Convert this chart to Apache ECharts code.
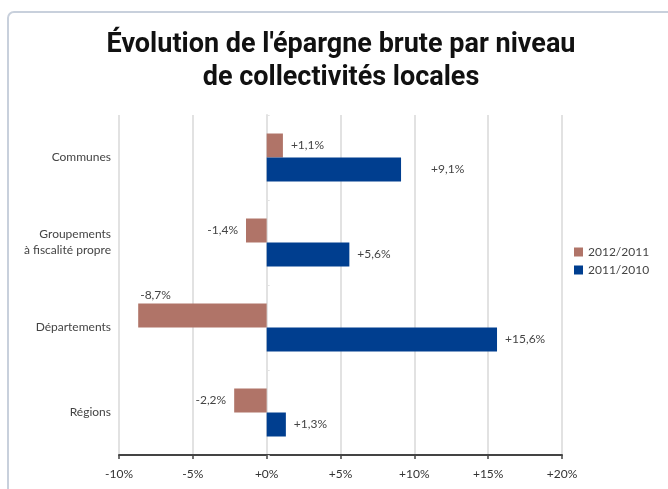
<!DOCTYPE html>
<html>
<head>
<meta charset="utf-8">
<script src="https://cdn.jsdelivr.net/npm/echarts@6/dist/echarts.min.js"></script>
<style>
  html, body { margin: 0; padding: 0; background: #fff; }
  #card {
    position: absolute; left: 7px; top: 11px; width: 720px; height: 540px;
    border: 2px solid #c8d0dc; border-radius: 7px; box-sizing: border-box;
  }
  #chart { position: absolute; left: 0; top: 0; width: 668px; height: 489px; }
</style>
</head>
<body>
<div id="card"></div>
<div id="chart"></div>
<script>
var myChart = echarts.init(document.getElementById('chart'));

// categories, top to bottom
var categories = ['Communes', 'Groupements\nà fiscalité propre', 'Départements', 'Régions'];
var seriesNames = ['2012/2011', '2011/2010'];
// evolution in %
var values2012 = [1.1, -1.4, -8.7, -2.2];
var values2011 = [9.1, 5.6, 15.6, 1.3];
var colors = ['#b07468', '#003e8f'];

function pct(v) {
    return (v >= 0 ? '+' : '') + String(v).replace('.', ',') + '%';
}

function barLabel(v) {
    return (v > 0 ? '+' : '') + v.toFixed(1).replace('.', ',') + '%';
}

// per item label placement (left for negatives)
function buildData(vals, special) {
    return vals.map(function (v, i) {
        var item = { value: v, label: { position: v < 0 ? 'left' : 'right' } };
        if (special[i]) item.label = special[i];
        return item;
    });
}

var data2012 = buildData(values2012, {
    2: { position: 'insideLeft', offset: [-6, -20] }
});
var data2011 = buildData(values2011, {
    0: { position: 'right', offset: [22, 0] }
});

var labelStyle = {
    show: true,
    distance: 8,
    color: '#444',
    fontSize: 12,
    fontFamily: 'Lato',
    formatter: function (p) { return barLabel(p.value); }
};

option = {
    backgroundColor: 'transparent',
    title: {
        text: "Évolution de l'épargne brute par niveau\nde collectivités locales",
        left: 341,
        top: 29,
        padding: 0,
        textAlign: 'center',
        textStyle: {
            color: '#111',
            fontSize: 27,
            lineHeight: 33,
            fontWeight: 'bold',
            fontFamily: 'Roboto'
        }
    },
    legend: {
        data: seriesNames,
        orient: 'vertical',
        left: 569,
        top: 241,
        icon: 'rect',
        itemWidth: 9,
        itemHeight: 9,
        itemGap: 6,
        textStyle: { color: '#444', fontSize: 12, fontFamily: 'Lato' }
    },
    grid: {
        left: 119,
        right: 106,
        top: 115,
        bottom: 34
    },
    xAxis: {
        type: 'value',
        min: -10,
        max: 20,
        interval: 5,
        axisLine: { show: true, onZero: false, lineStyle: { color: '#444', width: 2 } },
        axisTick: { show: true, length: 4, lineStyle: { color: '#444', width: 1.5 } },
        axisLabel: {
            color: '#333',
            fontSize: 12,
            fontFamily: 'Lato',
            margin: 13,
            formatter: function (v) { return pct(v); }
        },
        splitLine: { show: true, lineStyle: { color: '#e2e2e2', width: 2 } }
    },
    yAxis: [{
        type: 'category',
        inverse: true,
        data: categories,
        axisLine: { show: false, onZero: false },
        axisTick: { show: false },
        axisLabel: {
            color: '#444',
            fontSize: 12,
            fontFamily: 'Lato',
            margin: 8,
            lineHeight: 16
        }
    }, {
        type: 'category',
        inverse: true,
        data: categories,
        axisLine: { show: true, onZero: true, lineStyle: { color: '#e2e2e2', width: 2 } },
        axisTick: { show: true, length: 3, lineStyle: { color: '#e2e2e2', width: 1 } },
        axisLabel: { show: false }
    }],
    series: [{
        name: seriesNames[0],
        type: 'bar',
        barWidth: 24,
        barGap: 0,
        itemStyle: { color: colors[0] },
        label: labelStyle,
        data: data2012
    }, {
        name: seriesNames[1],
        type: 'bar',
        barWidth: 24,
        barGap: 0,
        itemStyle: { color: colors[1] },
        label: labelStyle,
        data: data2011
    }]
};

myChart.setOption(option);
</script>
</body>
</html>
